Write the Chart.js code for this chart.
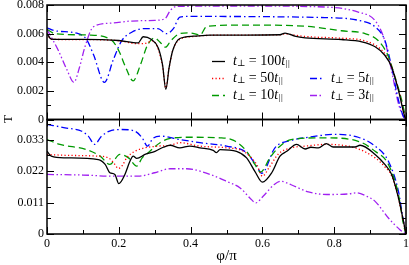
<!DOCTYPE html>
<html>
<head>
<meta charset="utf-8">
<script src="https://cdn.jsdelivr.net/npm/chart.js@4"></script>
<style>
  html, body { margin: 0; padding: 0; background: #fff; }
</style>
</head>
<body>
<canvas id="chart" width="409" height="265"></canvas>
<script>
const xTicks = [0, 0.2, 0.4, 0.6, 0.8, 1];
const topTicks = [0, 0.002, 0.004, 0.006, 0.008];
const bottomTicks = [0, 0.011, 0.022, 0.033];
const ratios = ['100', '50', '10', '5', '3'];

// upper panel
const phiTop100 = [0, 0.012, 0.05, 0.1, 0.15, 0.2, 0.254, 0.268, 0.29, 0.31, 0.322, 0.331, 0.34, 0.35, 0.37, 0.408, 0.454, 0.55, 0.649, 0.663, 0.69, 0.719, 0.82, 0.877, 0.914, 0.941, 0.96, 0.979, 0.997, 1];
const tTop100 = [0.006, 0.00562, 0.0056, 0.0056, 0.00558, 0.00552, 0.00536, 0.00578, 0.0056, 0.005, 0.0038, 0.0021, 0.0036, 0.0048, 0.00566, 0.00582, 0.00589, 0.0059, 0.00592, 0.00604, 0.00583, 0.00571, 0.00559, 0.00543, 0.00508, 0.00449, 0.00367, 0.00204, 0.00016, 0];
const phiTop50 = [0, 0.012, 0.1, 0.2, 0.25, 0.27, 0.295, 0.31, 0.322, 0.331, 0.34, 0.35, 0.37, 0.408, 0.454, 0.55, 0.649, 0.663, 0.69, 0.72, 0.82, 0.877, 0.914, 0.941, 0.96, 0.979, 0.997, 1];
const tTop50 = [0.006, 0.0056, 0.00558, 0.0055, 0.0053, 0.0053, 0.0055, 0.0049, 0.0037, 0.0022, 0.0036, 0.0048, 0.0056, 0.0058, 0.00588, 0.0059, 0.00592, 0.00598, 0.0059, 0.0058, 0.00568, 0.00555, 0.0052, 0.0046, 0.0037, 0.0021, 0.0002, 0];
const phiTop10 = [0, 0.022, 0.115, 0.18, 0.2, 0.22, 0.24, 0.26, 0.28, 0.3, 0.315, 0.33, 0.345, 0.37, 0.398, 0.426, 0.445, 0.55, 0.727, 0.82, 0.886, 0.923, 0.951, 0.969, 0.988, 1];
const tTop10 = [0.0063, 0.006, 0.0059, 0.00554, 0.0048, 0.0036, 0.0027, 0.0038, 0.0052, 0.0057, 0.0054, 0.00505, 0.0055, 0.006, 0.00605, 0.0059, 0.0065, 0.0066, 0.0065, 0.0062, 0.006, 0.0055, 0.0044, 0.003, 0.00135, 0];
const phiTop5 = [0, 0.022, 0.087, 0.11, 0.13, 0.16, 0.185, 0.208, 0.236, 0.273, 0.309, 0.333, 0.352, 0.37, 0.389, 0.774, 0.867, 0.914, 0.941, 0.96, 0.979, 0.993, 1];
const tTop5 = [0.0064, 0.0062, 0.006, 0.0056, 0.0045, 0.0026, 0.0042, 0.0055, 0.0061, 0.00635, 0.00635, 0.006, 0.00635, 0.00716, 0.0072, 0.00712, 0.00693, 0.00647, 0.00553, 0.00367, 0.00135, 0.0002, 0];
const phiTop3 = [0, 0.032, 0.055, 0.075, 0.09, 0.106, 0.129, 0.18, 0.236, 0.301, 0.329, 0.343, 0.361, 0.55, 0.774, 0.867, 0.914, 0.941, 0.96, 0.979, 0.993, 1];
const tTop3 = [0.0063, 0.0048, 0.0035, 0.0026, 0.0036, 0.0051, 0.00647, 0.00674, 0.00688, 0.00693, 0.00705, 0.0076, 0.0079, 0.00793, 0.00786, 0.0075, 0.0069, 0.0055, 0.0034, 0.0011, 0.0002, 0];

// lower panel
const phiBot100 = [0, 0.012, 0.05, 0.143, 0.162, 0.175, 0.189, 0.2, 0.217, 0.231, 0.24, 0.25, 0.273, 0.301, 0.324, 0.343, 0.37, 0.398, 0.426, 0.463, 0.472, 0.482, 0.528, 0.556, 0.579, 0.6, 0.626, 0.649, 0.668, 0.695, 0.719, 0.735, 0.756, 0.778, 0.797, 0.858, 0.872, 0.914, 0.941, 0.96, 0.979, 0.993, 1];
const tBot100 = [0.0289, 0.0272, 0.0266, 0.026, 0.0243, 0.0214, 0.0208, 0.0176, 0.0208, 0.0254, 0.0272, 0.0264, 0.0278, 0.0289, 0.0303, 0.031, 0.0301, 0.0307, 0.0301, 0.0292, 0.0284, 0.0295, 0.0289, 0.0266, 0.0219, 0.0181, 0.0214, 0.0272, 0.0289, 0.0313, 0.0297, 0.0303, 0.0301, 0.0316, 0.0304, 0.0304, 0.031, 0.0278, 0.0243, 0.0208, 0.0126, 0.0044, 0];
const phiBot50 = [0, 0.05, 0.14, 0.171, 0.185, 0.199, 0.21, 0.222, 0.245, 0.273, 0.309, 0.343, 0.37, 0.426, 0.5, 0.547, 0.584, 0.6, 0.62, 0.645, 0.68, 0.72, 0.778, 0.858, 0.914, 0.941, 0.96, 0.979, 0.993, 1];
const tBot50 = [0.0278, 0.0275, 0.0272, 0.0266, 0.025, 0.0229, 0.024, 0.0266, 0.0289, 0.0301, 0.0307, 0.031, 0.0319, 0.0307, 0.0301, 0.0289, 0.0243, 0.0202, 0.0235, 0.028, 0.0301, 0.0307, 0.0313, 0.0301, 0.0266, 0.0235, 0.0203, 0.0124, 0.0042, 0];
const phiBot10 = [0, 0.036, 0.11, 0.148, 0.175, 0.203, 0.227, 0.25, 0.265, 0.282, 0.315, 0.343, 0.398, 0.482, 0.52, 0.556, 0.579, 0.595, 0.621, 0.644, 0.68, 0.774, 0.867, 0.914, 0.951, 0.979, 0.993, 1];
const tBot10 = [0.033, 0.0313, 0.0295, 0.0272, 0.0243, 0.0278, 0.0266, 0.0237, 0.0266, 0.0284, 0.0319, 0.0334, 0.0338, 0.0336, 0.0327, 0.0289, 0.0243, 0.0216, 0.0266, 0.0301, 0.033, 0.0336, 0.0324, 0.0289, 0.0243, 0.0138, 0.0033, 0];
const phiBot5 = [0, 0.05, 0.097, 0.115, 0.133, 0.152, 0.18, 0.208, 0.245, 0.265, 0.28, 0.295, 0.315, 0.37, 0.426, 0.5, 0.556, 0.584, 0.598, 0.635, 0.68, 0.728, 0.802, 0.867, 0.914, 0.951, 0.979, 0.993, 1];
const tBot5 = [0.0383, 0.0371, 0.0359, 0.0342, 0.0313, 0.0342, 0.0362, 0.0365, 0.0359, 0.0336, 0.0307, 0.0334, 0.0342, 0.033, 0.0319, 0.0307, 0.0284, 0.0237, 0.0212, 0.0301, 0.0327, 0.0338, 0.0348, 0.0338, 0.0307, 0.0254, 0.0149, 0.0044, 0];
const phiBot3 = [0, 0.1, 0.18, 0.254, 0.3, 0.343, 0.389, 0.454, 0.5, 0.538, 0.565, 0.582, 0.602, 0.635, 0.652, 0.68, 0.728, 0.78, 0.84, 0.862, 0.89, 0.914, 0.951, 0.983, 1];
const tBot3 = [0.0208, 0.0206, 0.0202, 0.0202, 0.0214, 0.0228, 0.0228, 0.0208, 0.0184, 0.0161, 0.0126, 0.0109, 0.0132, 0.0175, 0.0184, 0.0172, 0.0147, 0.0138, 0.014, 0.0144, 0.0132, 0.0114, 0.0056, 0.0015, 0];

const SERIF = '"Liberation Serif", "DejaVu Serif", serif';
const styles = [
  { color: '#000000', dash: [] },
  { color: '#ff0000', dash: [1.2, 2.3] },
  { color: '#009a00', dash: [7, 4] },
  { color: '#0000ff', dash: [7, 3, 1.5, 3] },
  { color: '#a020f0', dash: [7, 2.5, 1.5, 2.5, 1.5, 2.5] }
];

function series(phi, t, axis, k) {
  return {
    data: phi.map((p, i) => ({ x: p, y: t[i] })),
    yAxisID: axis,
    borderColor: styles[k].color,
    borderDash: styles[k].dash,
    borderWidth: 1.3,
    pointRadius: 0,
    fill: false,
    cubicInterpolationMode: 'monotone'
  };
}

const datasets = [
  series(phiTop100, tTop100, 'yT', 0),
  series(phiTop50, tTop50, 'yT', 1),
  series(phiTop10, tTop10, 'yT', 2),
  series(phiTop5, tTop5, 'yT', 3),
  series(phiTop3, tTop3, 'yT', 4),
  series(phiBot100, tBot100, 'yB', 0),
  series(phiBot50, tBot50, 'yB', 1),
  series(phiBot10, tBot10, 'yB', 2),
  series(phiBot5, tBot5, 'yB', 3),
  series(phiBot3, tBot3, 'yB', 4)
];

const fmt = v => String(+(+v).toFixed(4));

function yScale(max, ticks) {
  return {
    type: 'linear',
    position: 'left',
    stack: 'panels',
    stackWeight: 1,
    min: 0,
    max: max,
    afterBuildTicks: s => { s.ticks = ticks.map(v => ({ value: v })); },
    afterFit: s => { s.width = 47; s.paddingTop = 0; s.paddingBottom = 0; },
    grid: { display: false, drawTicks: false },
    border: { display: false },
    ticks: { color: '#000', padding: 3, autoSkip: false, font: { family: SERIF, size: 12 }, callback: fmt }
  };
}

// box, inward ticks, legend and the y title
const decorations = {
  id: 'decorations',
  afterDatasetsDraw(chart) {
    const { ctx, chartArea: a, scales } = chart;
    const xs = scales.x;
    ctx.save();
    ctx.strokeStyle = '#000';
    const panels = [[scales.yT, topTicks, 0.001], [scales.yB, bottomTicks, 0.0055]];
    panels.forEach(([s, major, minorStep]) => {
      ctx.lineWidth = 1.5;
      ctx.strokeRect(a.left, s.top, a.right - a.left, s.bottom - s.top);
      ctx.lineWidth = 1;
      ctx.beginPath();
      for (let v = 0; v <= s.max + 1e-9; v += minorStep) {
        const y = Math.round(s.getPixelForValue(v)) + 0.5;
        const len = major.some(m => Math.abs(m - v) < 1e-7) ? 7 : 4;
        ctx.moveTo(a.left, y); ctx.lineTo(a.left + len, y);
        ctx.moveTo(a.right, y); ctx.lineTo(a.right - len, y);
      }
      for (let v = 0; v <= 1.0001; v += 0.1) {
        const x = Math.round(xs.getPixelForValue(v)) + 0.5;
        const len = xTicks.some(m => Math.abs(m - v) < 1e-7) ? 7 : 4;
        ctx.moveTo(x, s.top); ctx.lineTo(x, s.top + len);
        ctx.moveTo(x, s.bottom); ctx.lineTo(x, s.bottom - len);
      }
      ctx.stroke();
    });

    // legend
    const cells = [[212, 61], [212, 78], [212, 95], [310, 78], [310, 95]];
    ctx.textBaseline = 'middle';
    ctx.fillStyle = '#000';
    ratios.forEach((r, k) => {
      const [x0, y0] = cells[k];
      ctx.strokeStyle = styles[k].color;
      ctx.lineWidth = 1.3;
      ctx.setLineDash(styles[k].dash);
      ctx.beginPath();
      ctx.moveTo(x0, y0 + 0.5); ctx.lineTo(x0 + 13, y0 + 0.5);
      ctx.stroke();
      ctx.setLineDash([]);
      const parts = [
        ['t', 'italic 14px ' + SERIF, 0],
        ['\u22A5', '9px ' + SERIF, 3],
        [' = ' + r, '14px ' + SERIF, 0],
        ['t', 'italic 14px ' + SERIF, 0],
        ['||', 'italic 9px ' + SERIF, 3]
      ];
      let x = x0 + 21;
      parts.forEach(([s, f, dy]) => {
        ctx.font = f;
        ctx.fillText(s, x, y0 + dy);
        x += ctx.measureText(s).width;
      });
    });

    // y title
    ctx.translate(9, 119);
    ctx.rotate(-Math.PI / 2);
    ctx.font = '13px ' + SERIF;
    ctx.textAlign = 'center';
    ctx.fillText('T', 0, 0);
    ctx.restore();
  }
};

new Chart(document.getElementById('chart'), {
  type: 'line',
  data: { datasets: datasets },
  options: {
    responsive: false,
    animation: false,
    layout: { padding: { top: 5, right: 3, left: 0, bottom: 0 } },
    plugins: { legend: { display: false }, tooltip: { enabled: false } },
    scales: {
      x: {
        type: 'linear',
        min: 0,
        max: 1,
        afterBuildTicks: s => { s.ticks = xTicks.map(v => ({ value: v })); },
        afterFit: s => { s.height = 31; s.paddingLeft = 0; s.paddingRight = 0; },
        grid: { display: false, drawTicks: false },
        border: { display: false },
        ticks: { color: '#000', padding: 3, maxRotation: 0, autoSkip: false, font: { family: SERIF, size: 12 }, callback: fmt },
        title: { display: true, text: '\u03C6/\u03C0', color: '#000', padding: 0, font: { family: SERIF, size: 15 } }
      },
      // stacked left axes are laid out bottom-first
      yB: yScale(0.04, bottomTicks),
      yT: yScale(0.008, topTicks)
    }
  },
  plugins: [decorations]
});
</script>
</body>
</html>
